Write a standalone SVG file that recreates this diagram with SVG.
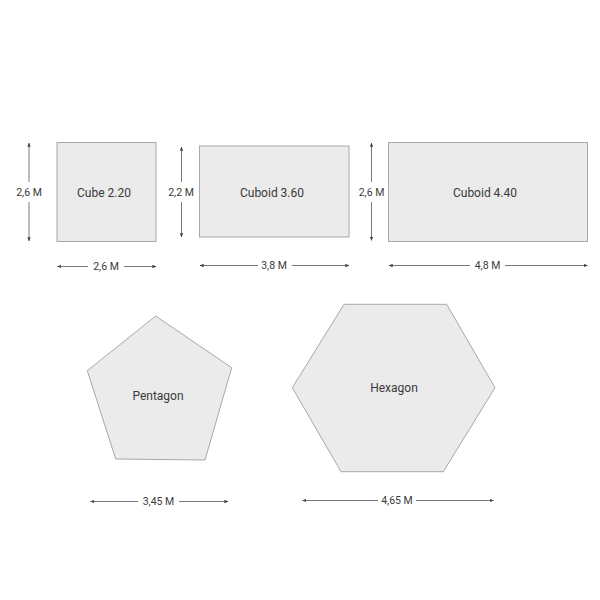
<svg xmlns="http://www.w3.org/2000/svg" width="600" height="600" viewBox="0 0 600 600">
<style>
.shape{fill:#ebebeb;stroke:#a8a8a8;stroke-width:1}
.lbl{font-family:Roboto,"Liberation Sans",sans-serif;font-size:12px;fill:#3a3a3a;text-anchor:middle;dominant-baseline:central}
.dim{font-family:Roboto,"Liberation Sans",sans-serif;font-size:10.5px;fill:#3a3a3a;text-anchor:middle;dominant-baseline:central}
.dl{stroke:#555;stroke-width:0.8;fill:none}
.bg{fill:#fff}
</style>
<defs>
<marker id="ah" viewBox="0 0 6 6" refX="5.5" refY="3" markerWidth="4" markerHeight="4" orient="auto-start-reverse" markerUnits="userSpaceOnUse">
<path d="M0,0.5 L6,3 L0,5.5 Z" fill="#444"/>
</marker>
</defs>
<rect width="600" height="600" fill="#fff"/>
<g id="cube">
<rect class="shape" x="57" y="142.5" width="99" height="99"/>
<text class="lbl" x="104" y="193">Cube 2.20</text>
</g>
<g id="cuboid360">
<rect class="shape" x="199.5" y="146" width="149.5" height="91"/>
<text class="lbl" x="272" y="193">Cuboid 3.60</text>
</g>
<g id="cuboid440">
<rect class="shape" x="388.5" y="142.5" width="199" height="99"/>
<text class="lbl" x="485" y="193">Cuboid 4.40</text>
</g>
<g id="pentagon">
<polygon class="shape" points="155.7,316 231.7,367.7 205,460 115.7,459 87.3,370.7"/>
<text class="lbl" x="158" y="396">Pentagon</text>
</g>
<g id="hexagon">
<polygon class="shape" points="344,304.3 446.7,304.3 495,387.7 443.3,471.7 341,471.7 292.3,387.7"/>
<text class="lbl" x="394" y="388">Hexagon</text>
</g>
<g id="connectors">
<line class="dl" x1="29" y1="182" x2="29" y2="143" marker-end="url(#ah)"/>
<line class="dl" x1="29" y1="202" x2="29" y2="241" marker-end="url(#ah)"/>
<line class="dl" x1="88" y1="266.5" x2="57.5" y2="266.5" marker-end="url(#ah)"/>
<line class="dl" x1="124" y1="266.5" x2="156" y2="266.5" marker-end="url(#ah)"/>
<line class="dl" x1="181.5" y1="182" x2="181.5" y2="147" marker-end="url(#ah)"/>
<line class="dl" x1="181.5" y1="202" x2="181.5" y2="237" marker-end="url(#ah)"/>
<line class="dl" x1="258" y1="265.5" x2="200" y2="265.5" marker-end="url(#ah)"/>
<line class="dl" x1="292" y1="265.5" x2="349" y2="265.5" marker-end="url(#ah)"/>
<line class="dl" x1="371.5" y1="182" x2="371.5" y2="143" marker-end="url(#ah)"/>
<line class="dl" x1="371.5" y1="202" x2="371.5" y2="240.5" marker-end="url(#ah)"/>
<line class="dl" x1="470" y1="265.5" x2="389" y2="265.5" marker-end="url(#ah)"/>
<line class="dl" x1="505" y1="265.5" x2="587.5" y2="265.5" marker-end="url(#ah)"/>
<line class="dl" x1="138" y1="501.5" x2="90.5" y2="501.5" marker-end="url(#ah)"/>
<line class="dl" x1="179" y1="501.5" x2="228" y2="501.5" marker-end="url(#ah)"/>
<line class="dl" x1="378" y1="500.5" x2="302.5" y2="500.5" marker-end="url(#ah)"/>
<line class="dl" x1="416" y1="500.5" x2="493.5" y2="500.5" marker-end="url(#ah)"/>
</g>
<g id="dimension-labels">
<text class="dim" x="29" y="192">2,6 M</text>
<text class="dim" x="106" y="266.5">2,6 M</text>
<text class="dim" x="181" y="192">2,2 M</text>
<text class="dim" x="274" y="265.5">3,8 M</text>
<text class="dim" x="371.5" y="192">2,6 M</text>
<text class="dim" x="487.5" y="265.5">4,8 M</text>
<text class="dim" x="158.5" y="501.5">3,45 M</text>
<text class="dim" x="397" y="500.5">4,65 M</text>
</g>
</svg>
